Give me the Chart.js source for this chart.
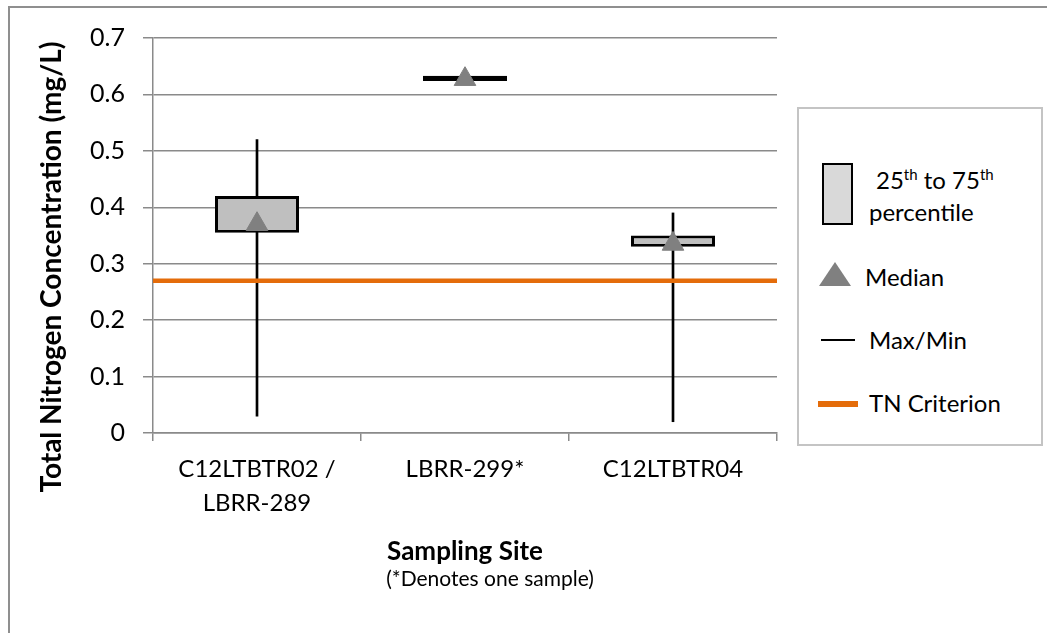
<!DOCTYPE html>
<html>
<head>
<meta charset="utf-8">
<title>Total Nitrogen Concentration by Sampling Site</title>
<script src="https://cdn.jsdelivr.net/npm/chart.js@4.4.1/dist/chart.umd.min.js"></script>
<style>
  html, body { margin: 0; padding: 0; background: #fff; overflow: hidden; }
  #wrap { position: relative; width: 1047px; height: 633px; font-family: Lato, "Open Sans", sans-serif; }
  #frame { position: absolute; left: 8px; top: 6px; width: 1039px; height: 627px;
           border-top: 2px solid #8f8f8f; border-left: 2px solid #8f8f8f; box-sizing: border-box; }
  #chart { position: absolute; left: 0; top: 0; }
  #legend { position: absolute; left: 797px; top: 107px; width: 246px; height: 339px;
            border: 2px solid #c4c4c4; box-sizing: border-box; background: #fff; }
  .lg-text { position: absolute; font-size: 24px; line-height: 30px; color: #000; white-space: nowrap; }
  .sup { font-size: 15px; position: relative; top: -9px; line-height: 0; }
  .lg-box { position: absolute; left: 822px; top: 163px; width: 31px; height: 62px;
            background: #d9d9d9; border: 2px solid #000; box-sizing: border-box; }
  .lg-tri { position: absolute; left: 819px; top: 262px; width: 0; height: 0;
            border-left: 16px solid transparent; border-right: 16px solid transparent;
            border-bottom: 24px solid #808080; }
  .lg-line { position: absolute; left: 821px; top: 339px; width: 34px; height: 2px; background: #000; }
  .lg-tn { position: absolute; left: 818px; top: 401px; width: 40px; height: 6px; background: #E46C0A; }
</style>
</head>
<body>
<div id="wrap">
  <div id="frame"></div>
  <canvas id="chart" width="1047" height="633"></canvas>
  <div id="legend"></div>
  <div class="lg-box"></div>
  <div class="lg-text" style="left:876px;top:165px;">25<span class="sup">th</span> to 75<span class="sup">th</span></div>
  <div class="lg-text" style="left:869px;top:197px;">percentile</div>
  <div class="lg-tri"></div>
  <div class="lg-text" style="left:865px;top:262px;">Median</div>
  <div class="lg-line"></div>
  <div class="lg-text" style="left:869px;top:325px;">Max/Min</div>
  <div class="lg-tn"></div>
  <div class="lg-text" style="left:869px;top:388px;">TN Criterion</div>
</div>
<script>
// Sampling sites (multi-line labels as arrays)
const sites = [['C12LTBTR02 /', 'LBRR-289'], 'LBRR-299*', 'C12LTBTR04'];

// Total nitrogen statistics per site (mg/L)
const pct25   = [0.355, 0.624, 0.33];
const pct75   = [0.42,  0.633, 0.35];
const medians = [0.37,  0.627, 0.335];
const maxima  = [0.52,  0.63,  0.39];
const minima  = [0.03,  0.63,  0.02];

// TN criterion (mg/L)
const tnCriterion = 0.27;

// Value axis range
const yMin = 0;
const yMax = 0.7;
const yStep = 0.1;

const FONT = 'Lato';
const GRID = '#8a8a8a';

const boxRanges = sites.map((_, i) => [pct25[i], pct75[i]]);
const whiskerRanges = sites.map((_, i) => [minima[i], maxima[i]]);
const criterionLine = [{ x: 0, y: tnCriterion }, { x: sites.length, y: tnCriterion }];

// Free-standing captions: value-axis title and the footnote under the x-axis title
const captionPlugin = {
  id: 'captions',
  afterDraw(chart, args, opts) {
    const ctx = chart.ctx;
    for (const c of opts.items) {
      ctx.save();
      ctx.font = c.font;
      ctx.fillStyle = '#000';
      ctx.textAlign = 'center';
      ctx.textBaseline = 'middle';
      ctx.translate(c.x, c.y);
      if (c.rotate) ctx.rotate(c.rotate);
      ctx.fillText(c.text, 0, 0);
      ctx.restore();
    }
  }
};

new Chart(document.getElementById('chart'), {
  type: 'bar',
  data: {
    labels: sites,
    datasets: [
      {
        type: 'line',
        label: 'Median',
        data: medians,
        showLine: false,
        pointStyle: 'triangle',
        pointRadius: 12.5,
        pointBackgroundColor: '#808080',
        pointBorderColor: '#808080',
        pointBorderWidth: 1,
        order: 0
      },
      {
        type: 'line',
        label: 'TN Criterion',
        xAxisID: 'xLine',
        data: criterionLine,
        borderColor: '#E46C0A',
        borderWidth: 4.5,
        pointRadius: 0,
        order: 1
      },
      {
        type: 'bar',
        label: '25th to 75th percentile',
        data: boxRanges,
        backgroundColor: '#bfbfbf',
        borderColor: '#000',
        borderWidth: 3,
        borderSkipped: false,
        inflateAmount: 0,
        barThickness: 84,
        grouped: false,
        order: 2
      },
      {
        type: 'bar',
        label: 'Max/Min',
        data: whiskerRanges,
        backgroundColor: '#000',
        borderWidth: 0,
        barThickness: 2,
        grouped: false,
        order: 3
      }
    ]
  },
  options: {
    responsive: false,
    animation: false,
    devicePixelRatio: 1,
    layout: { padding: { left: 0, top: 38, right: 270, bottom: 0 } },
    plugins: {
      legend: { display: false },
      tooltip: { enabled: false },
      captions: {
        items: [
          { text: 'Total Nitrogen Concentration (mg/L)', font: 'bold 28px ' + FONT, x: 52, y: 267, rotate: -Math.PI / 2 },
          { text: '(*Denotes one sample)', font: '21px ' + FONT, x: 490, y: 579 }
        ]
      }
    },
    scales: {
      x: {
        type: 'category',
        offset: true,
        grid: { offset: true, drawOnChartArea: false, drawTicks: true, tickLength: 8, color: GRID, lineWidth: 1.5 },
        border: { color: GRID, width: 1.5 },
        ticks: { color: '#000', font: { family: FONT, size: 24, lineHeight: 1.42 }, padding: 11, maxRotation: 0 },
        title: { display: true, text: 'Sampling Site', color: '#000',
                 font: { family: FONT, size: 26, weight: 'bold', lineHeight: 1.2 },
                 padding: { top: 0, bottom: 66 } },
        afterFit(scale) { scale.height = 200; }
      },
      xLine: {
        type: 'linear',
        display: false,
        offset: false,
        min: 0,
        max: sites.length
      },
      y: {
        min: yMin,
        max: yMax,
        ticks: { stepSize: yStep, color: '#000', font: { family: FONT, size: 25 }, padding: 18 },
        grid: { color: GRID, lineWidth: 1.5, tickLength: 10 },
        border: { color: GRID, width: 1.5 },
        title: { display: false },
        afterFit(scale) { scale.width = 153; }
      }
    }
  },
  plugins: [captionPlugin]
});
</script>
</body>
</html>
